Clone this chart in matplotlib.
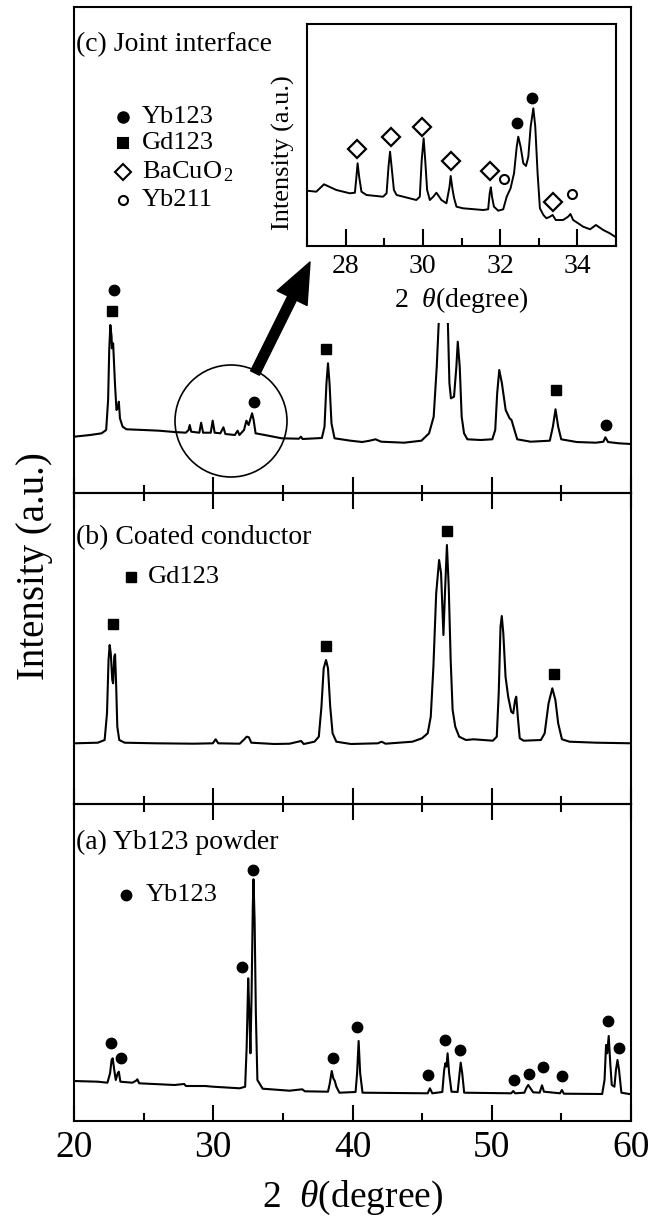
import matplotlib
matplotlib.use('Agg')
import matplotlib.pyplot as plt
from matplotlib.patches import Rectangle, Circle
from matplotlib.ticker import MultipleLocator

plt.rcParams['font.family'] = ['Liberation Serif', 'DejaVu Serif']
plt.rcParams['mathtext.fontset'] = 'custom'
plt.rcParams['mathtext.rm'] = 'Liberation Serif'
plt.rcParams['mathtext.it'] = 'Liberation Serif:italic'

# (c) joint interface trace, 2theta (deg) / intensity (a.u.)
c_x = [20.00, 21.16, 21.98, 22.31, 22.45, 22.53, 22.61, 22.70, 22.72, 22.81, 22.94, 23.05, 23.14, 23.22,
       23.30, 23.49, 23.77, 25.01, 26.11, 27.21, 28.03, 28.23, 28.31, 28.42, 29.00, 29.13, 29.27, 29.82,
       29.96, 30.10, 30.51, 30.73, 30.87, 31.55, 31.75, 31.88, 32.21, 32.38, 32.54, 32.79, 32.90, 33.04,
       33.81, 34.91, 36.15, 36.29, 36.42, 37.80, 37.99, 38.13, 38.24, 38.35, 38.49, 38.71, 39.86, 40.69,
       41.24, 41.65, 42.06, 43.71, 44.95, 45.50, 45.83, 46.05, 46.19, 46.35, 46.52, 46.68, 46.85, 46.96,
       47.07, 47.29, 47.46, 47.56, 47.70, 47.84, 48.01, 48.25, 49.22, 50.04, 50.25, 50.39, 50.54, 50.73,
       51.00, 51.28, 51.42, 51.56, 51.83, 52.79, 54.17, 54.39, 54.58, 54.77, 54.99, 56.09, 57.47, 58.02,
       58.16, 58.35, 59.12, 60.00]
c_y = [56.3, 58.0, 59.7, 63.0, 93.0, 143.0, 168.0, 156.3, 144.7, 149.7, 109.7, 83.0, 84.7, 91.3,
       74.7, 66.3, 63.7, 63.0, 62.3, 61.0, 60.3, 63.0, 68.0, 61.3, 60.3, 70.3, 60.3, 60.3,
       72.3, 60.3, 59.7, 65.7, 59.0, 58.0, 62.3, 58.0, 63.0, 72.3, 68.0, 79.7, 73.0, 59.7,
       57.7, 54.7, 54.3, 56.3, 54.0, 55.0, 66.3, 109.7, 129.7, 109.7, 69.7, 54.7, 52.3, 51.0,
       52.3, 53.7, 51.3, 50.3, 52.3, 59.7, 76.3, 126.3, 169.7, 330.0, 230.0, 330.0, 170.0, 109.7,
       94.7, 96.3, 126.3, 151.3, 126.3, 76.3, 59.7, 53.7, 53.0, 53.7, 63.0, 99.7, 123.0, 109.7,
       83.0, 74.7, 73.0, 66.3, 53.7, 51.3, 52.3, 66.3, 83.7, 66.3, 53.7, 51.0, 50.3, 51.3,
       55.7, 51.0, 49.7, 49.0]
c_yb123 = ([22.9, 32.93, 58.2], [203, 91, 68])
c_gd123 = ([22.75, 38.13, 54.58], [182, 144, 103])

# (b) coated conductor
b_x = [20.06, 21.71, 22.20, 22.37, 22.48, 22.56, 22.64, 22.75, 22.81, 22.89, 22.95, 23.03, 23.11, 23.25,
       23.64, 25.84, 28.60, 29.97, 30.17, 30.36, 31.90, 32.23, 32.40, 32.56, 32.73, 34.38, 35.48, 36.31,
       36.50, 37.27, 37.58, 37.77, 37.93, 38.10, 38.24, 38.40, 38.57, 38.84, 39.89, 41.82, 42.09, 42.37,
       43.33, 44.30, 44.99, 45.40, 45.62, 45.81, 46.01, 46.22, 46.36, 46.53, 46.64, 46.78, 46.91, 47.05,
       47.19, 47.38, 47.66, 48.15, 48.70, 50.08, 50.36, 50.50, 50.63, 50.72, 50.83, 50.99, 51.18, 51.40,
       51.54, 51.68, 51.76, 51.87, 52.01, 52.29, 53.53, 53.80, 54.08, 54.35, 54.57, 54.77, 55.04, 55.59,
       57.52, 60.00]
b_y = [60.7, 61.3, 64.0, 90.7, 144.0, 159.0, 150.7, 124.0, 120.7, 147.3, 149.7, 117.3, 77.3, 64.0,
       61.3, 60.7, 60.3, 60.7, 64.7, 60.7, 60.3, 64.7, 67.3, 66.7, 61.3, 60.0, 60.3, 63.0,
       60.0, 62.3, 67.3, 97.3, 135.7, 144.0, 135.7, 97.3, 70.7, 62.3, 60.0, 60.7, 62.3, 60.3,
       61.3, 62.3, 65.7, 70.7, 87.3, 137.3, 210.7, 244.0, 230.7, 169.0, 210.7, 259.0, 217.3, 144.0,
       94.0, 77.3, 67.3, 64.0, 64.7, 63.3, 67.3, 110.7, 177.3, 188.0, 170.7, 127.3, 107.3, 92.3,
       90.7, 104.0, 107.3, 87.3, 65.7, 63.3, 64.0, 70.7, 100.7, 115.7, 104.0, 80.7, 64.7, 62.3,
       61.3, 60.7]
b_gd123 = ([22.8, 38.07, 46.78, 54.49], [179.7, 158.3, 273.3, 130.0])

# (a) Yb123 powder
a_x = [20.00, 21.71, 22.40, 22.59, 22.70, 22.78, 22.89, 23.00, 23.14, 23.22, 23.33, 24.19, 24.46, 24.55,
       24.68, 27.22, 27.91, 28.04, 29.42, 29.97, 31.90, 32.29, 32.40, 32.51, 32.59, 32.67, 32.75, 32.84,
       32.89, 32.97, 33.06, 33.17, 33.55, 35.48, 36.39, 36.58, 38.24, 38.37, 38.51, 38.62, 38.73, 38.84,
       39.06, 40.22, 40.33, 40.44, 40.55, 40.72, 45.40, 45.56, 45.73, 46.45, 46.58, 46.67, 46.75, 46.83,
       46.94, 47.11, 47.55, 47.69, 47.77, 47.88, 48.02, 51.40, 51.54, 51.68, 52.34, 52.51, 52.62, 52.78,
       52.97, 53.44, 53.61, 53.75, 54.90, 55.04, 55.18, 57.93, 58.10, 58.21, 58.29, 58.40, 58.51, 58.62,
       58.81, 58.92, 59.03, 59.14, 59.31, 60.00]
a_y = [40.0, 39.3, 38.3, 47.7, 61.0, 62.7, 51.0, 41.0, 47.7, 49.3, 39.3, 38.3, 40.3, 41.7,
       37.7, 36.0, 37.0, 35.0, 35.0, 34.3, 32.7, 34.3, 74.3, 142.7, 107.7, 67.7, 124.3, 214.3,
       241.7, 201.0, 107.7, 41.0, 32.3, 30.3, 31.7, 29.7, 29.3, 37.7, 50.0, 42.7, 40.0, 34.3,
       28.3, 29.0, 47.7, 80.0, 47.7, 28.3, 27.7, 32.7, 27.7, 29.0, 50.7, 57.7, 54.3, 67.7,
       47.7, 29.3, 29.0, 47.7, 58.3, 47.7, 28.3, 27.7, 30.0, 27.7, 28.3, 33.7, 36.0, 32.7,
       28.7, 28.3, 35.7, 29.3, 27.7, 31.0, 27.3, 27.0, 41.0, 76.0, 67.7, 85.0, 57.7, 36.0,
       34.3, 51.0, 61.0, 51.0, 28.3, 26.7]
a_yb123 = ([22.67, 23.36, 32.07, 32.89, 38.57, 40.33, 45.43, 46.61, 47.74, 51.57, 52.67, 53.66, 55.04, 58.35, 59.17],
           [78.3, 62.7, 153.7, 251.0, 63.3, 93.7, 46.0, 81.0, 71.0, 41.0, 47.0, 54.3, 45.0, 99.7, 73.3])

# inset: joint interface, 27-35 deg
in_x = [27.00, 27.24, 27.44, 27.76, 28.11, 28.24, 28.28, 28.31, 28.35, 28.41, 28.54, 28.97, 29.06, 29.11,
        29.15, 29.19, 29.25, 29.32, 29.83, 29.92, 29.97, 30.02, 30.06, 30.11, 30.18, 30.27, 30.35, 30.48,
        30.61, 30.69, 30.72, 30.77, 30.81, 30.87, 31.04, 31.56, 31.69, 31.73, 31.76, 31.79, 31.84, 31.95,
        32.08, 32.17, 32.27, 32.36, 32.43, 32.47, 32.53, 32.60, 32.67, 32.73, 32.79, 32.86, 32.91, 32.97,
        33.03, 33.12, 33.20, 33.29, 33.36, 33.44, 33.63, 33.76, 33.82, 33.89, 34.02, 34.15, 34.33, 34.48,
        34.67, 34.84, 35.00]
in_y = [55.3, 54.3, 61.7, 56.0, 52.7, 53.3, 69.3, 82.7, 69.3, 54.3, 51.0, 49.3, 52.7, 79.3,
        94.3, 79.3, 56.0, 51.0, 46.0, 49.3, 86.0, 107.7, 86.0, 56.0, 46.0, 49.3, 53.3, 46.0,
        42.7, 59.3, 70.0, 56.0, 47.7, 39.3, 37.7, 36.0, 36.7, 52.7, 58.7, 49.3, 39.3, 35.3,
        36.7, 49.3, 57.7, 72.7, 99.3, 109.3, 99.3, 82.7, 80.0, 89.3, 119.3, 137.7, 119.3, 72.7,
        37.7, 31.0, 27.7, 29.3, 31.0, 26.0, 26.0, 29.3, 32.0, 26.0, 22.7, 19.3, 16.7, 21.0,
        16.0, 12.7, 8.7]
in_yb123 = ([32.43, 32.83], [123, 148])
in_bacuo2 = ([28.3, 29.18, 29.99, 30.74, 31.75, 33.36], [97, 109, 119, 85, 75, 44])
in_yb211 = ([32.1, 33.86], [67, 52])

W, H = 661, 1222
fig = plt.figure(figsize=(W / 100, H / 100), dpi=100)

left, right = 74, 631
panels = [(7, 493), (493, 804), (804, 1121)]  # pixel rows of (c), (b), (a)
axes = []
for top, bot in panels:
    ax = fig.add_axes([left / W, (H - bot) / H, (right - left) / W, (bot - top) / H])
    ax.set_xlim(20, 60)
    ax.set_ylim(0, bot - top)
    ax.set_yticks([])
    ax.xaxis.set_major_locator(MultipleLocator(10))
    ax.xaxis.set_minor_locator(MultipleLocator(5))
    ax.patch.set_visible(False)
    for s in ax.spines.values():
        s.set_linewidth(1.5)
    axes.append(ax)
ax_c, ax_b, ax_a = axes

for ax in (ax_c, ax_b):
    ax.tick_params(axis='x', which='major', direction='inout', length=23, width=1.5, labelbottom=False)
    ax.tick_params(axis='x', which='minor', direction='inout', length=12, width=1.5)
ax_a.tick_params(axis='x', which='major', direction='in', length=11.5, width=1.5, labelsize=27, pad=7)
ax_a.tick_params(axis='x', which='minor', direction='in', length=6, width=1.5)
ax_a.set_xlabel('2  $\\theta$(degree)', fontsize=27, labelpad=10)

fig.text(35 / W, 1 - 566 / H, 'Intensity (a.u.)', rotation=90, fontsize=28, ha='center', va='center')

lw = 1.5
ms = 7.5
ax_c.plot(c_x, c_y, color='black', lw=lw)
ax_c.plot(*c_yb123, 'o', color='black', ms=ms, ls='none')
ax_c.plot(*c_gd123, 's', color='black', ms=7, ls='none')
ax_b.plot(b_x, b_y, color='black', lw=lw)
ax_b.plot(*b_gd123, 's', color='black', ms=7, ls='none')
ax_a.plot(a_x, a_y, color='black', lw=lw)
ax_a.plot(*a_yb123, 'o', color='black', ms=ms, ls='none')

# panel labels
ax_c.text(0.004, (493 - 45) / 486, '(c) Joint interface', transform=ax_c.transAxes, fontsize=20, va='center')
ax_b.text(0.004, (804 - 538) / 311, '(b) Coated conductor', transform=ax_b.transAxes, fontsize=20, va='center')
ax_a.text(0.004, (1121 - 842) / 317, '(a) Yb123 powder', transform=ax_a.transAxes, fontsize=20, va='center')

# legends
leg_c = [('o', 'black', 'Yb123', 117, 7.5), ('s', 'black', 'Gd123', 143, 7),
         ('D', 'white', 'BaCuO$_{\\,2}$', 172, 8.5), ('o', 'white', 'Yb211', 200, 6.5)]
for m, fc, lab, yy, size in leg_c:
    yf = (493 - yy) / 486
    ax_c.plot([(123 - 74) / 557], [yf], m, transform=ax_c.transAxes, ms=size, mfc=fc, mec='black', mew=1.5)
    ax_c.text((142 - 74) / 557, yf, lab, transform=ax_c.transAxes, fontsize=19, va='center')
ax_b.plot([(131 - 74) / 557], [(804 - 577) / 311], 's', transform=ax_b.transAxes, ms=7, color='black')
ax_b.text((148 - 74) / 557, (804 - 577) / 311, 'Gd123', transform=ax_b.transAxes, fontsize=19, va='center')
ax_a.plot([(126 - 74) / 557], [(1121 - 895) / 317], 'o', transform=ax_a.transAxes, ms=7.5, color='black')
ax_a.text((146 - 74) / 557, (1121 - 895) / 317, 'Yb123', transform=ax_a.transAxes, fontsize=19, va='center')

# white area behind the inset (hides the tall 46-47 deg peaks)
ax_c.add_patch(Rectangle((2.85, (H - 323) / 100), 3.42, 3.1, transform=fig.dpi_scale_trans,
                         facecolor='white', edgecolor='none', zorder=3, clip_on=False))

# circle and arrow
ax_c.add_patch(Circle((2.31, (H - 421) / 100), 0.56, transform=fig.dpi_scale_trans,
                      facecolor='none', edgecolor='black', lw=1.2, clip_on=False, zorder=4))
ax_c.annotate('', xy=(310, H - 262), xycoords='figure pixels', xytext=(255, H - 373),
              textcoords='figure pixels',
              arrowprops=dict(facecolor='black', edgecolor='black', width=7, headwidth=24,
                              headlength=29, shrink=0), zorder=6)

# inset
ax_in = fig.add_axes([307 / W, (H - 246) / H, 309 / W, 222 / H], zorder=5)
ax_in.plot(in_x, in_y, color='black', lw=1.4)
ax_in.plot(*in_yb123, 'o', color='black', ms=7.5, ls='none')
ax_in.plot(*in_bacuo2, 'D', mfc='white', mec='black', mew=1.6, ms=9.5, ls='none')
ax_in.plot(*in_yb211, 'o', mfc='white', mec='black', mew=1.5, ms=6.5, ls='none')
ax_in.set_xlim(27, 35)
ax_in.set_ylim(0, 222)
ax_in.set_yticks([])
ax_in.xaxis.set_major_locator(MultipleLocator(2))
ax_in.xaxis.set_minor_locator(MultipleLocator(1))
ax_in.tick_params(axis='x', which='major', direction='in', length=12, width=1.5, labelsize=20, pad=6)
ax_in.tick_params(axis='x', which='minor', direction='in', length=6, width=1.5)
for s in ax_in.spines.values():
    s.set_linewidth(1.5)
ax_in.set_xlabel('2  $\\theta$(degree)', fontsize=20, labelpad=4)
ax_in.set_ylabel('Intensity (a.u.)', fontsize=19)
ax_in.yaxis.set_label_coords(-0.04, 0.42)

fig.savefig('out.png', dpi=100)
